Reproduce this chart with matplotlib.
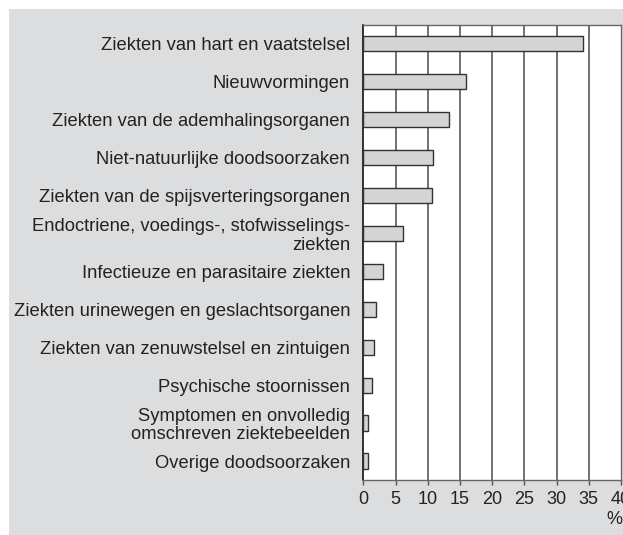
import matplotlib.pyplot as plt
from matplotlib.patches import Rectangle

# Doodsoorzaken, aandeel in %
categories = [
    "Ziekten van hart en vaatstelsel",
    "Nieuwvormingen",
    "Ziekten van de ademhalingsorganen",
    "Niet-natuurlijke doodsoorzaken",
    "Ziekten van de spijsverteringsorganen",
    "Endoctriene, voedings-, stofwisselings-\nziekten",
    "Infectieuze en parasitaire ziekten",
    "Ziekten urinewegen en geslachtsorganen",
    "Ziekten van zenuwstelsel en zintuigen",
    "Psychische stoornissen",
    "Symptomen en onvolledig\nomschreven ziektebeelden",
    "Overige doodsoorzaken",
]
values = [34.1, 15.9, 13.3, 10.8, 10.6, 6.2, 3.0, 1.9, 1.6, 1.4, 0.8, 0.8]
xticks = [0, 5, 10, 15, 20, 25, 30, 35, 40]

plt.rcParams['font.family'] = ['Liberation Sans', 'DejaVu Sans']

W, H = 623, 535
fig = plt.figure(figsize=(W / 100, H / 100), dpi=100)
fig.patch.set_facecolor('white')

# grey panel behind everything
fig.patches.append(Rectangle((9 / W, 0), 1 - 9 / W, 1 - 9 / H,
                             transform=fig.transFigure, facecolor='#dcdddf',
                             edgecolor='none', zorder=-10))

left, right, top, bottom = 363.3, 621, 24.5, 480
ax = fig.add_axes([left / W, 1 - bottom / H, (right - left) / W, (bottom - top) / H])
ax.set_facecolor('white')

ypos = list(range(len(categories)))
ax.barh(ypos, values, height=0.4, color='#d4d4d6', edgecolor='#333333',
        linewidth=1, zorder=3)

ax.set_ylim(len(categories) - 0.5, -0.5)
ax.set_xlim(0, 40)
ax.set_xticks(xticks)
ax.set_xticklabels([str(t) for t in xticks], fontsize=13, color='#222222')
ax.set_yticks(ypos)
ax.set_yticklabels(categories, fontsize=13.2, color='#222222',
                   ha='right', multialignment='right', linespacing=1.1)
ax.tick_params(axis='y', length=0, pad=9.5)
ax.tick_params(axis='x', length=3.6, width=1, color='#555555', pad=4, direction='out')

for t in xticks[1:-1]:
    ax.axvline(t, color='#4a4a4a', linewidth=1.1, zorder=1)

for side in ['top', 'right', 'bottom']:
    ax.spines[side].set_color('#666666')
    ax.spines[side].set_linewidth(1)
ax.spines['left'].set_color('#111111')
ax.spines['left'].set_linewidth(1.2)

fig.text(622 / W, 1 - 520 / H, '%', ha='right', va='center', fontsize=13,
         color='#222222')

fig.savefig('out.png', dpi=100)
